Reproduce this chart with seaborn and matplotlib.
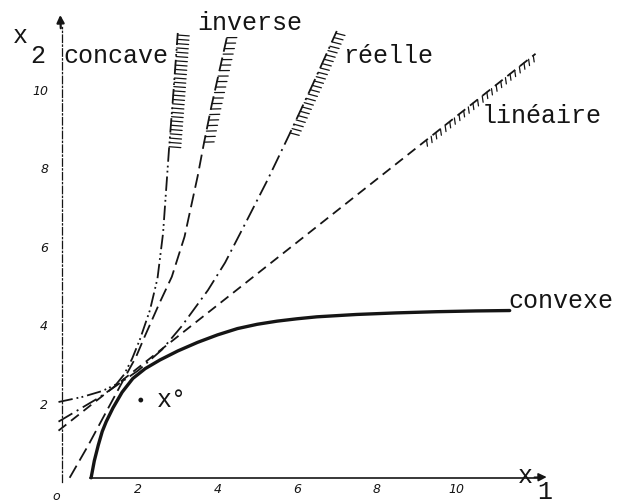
import matplotlib
matplotlib.use('Agg')
import matplotlib.pyplot as plt
import matplotlib.patheffects as pe
import seaborn as sns

# ---- Données (x1, x2) ----
convexe_x1 = [0.82, 0.9, 1.0, 1.1, 1.2, 1.37, 1.6, 1.87, 2.18, 2.55, 3.0, 3.5, 4.0,
              4.5, 5.0, 5.5, 6.0, 6.5, 7.5, 8.5, 9.5, 10.5, 11.35]
convexe_x2 = [0.12, 0.55, 0.95, 1.3, 1.55, 1.9, 2.3, 2.65, 2.9, 3.12, 3.35, 3.57, 3.76,
              3.92, 4.03, 4.11, 4.17, 4.22, 4.28, 4.32, 4.35, 4.37, 4.38]

lineaire_x1 = [0.0, 2.3, 4.19, 6.49, 9.2, 12.0]
lineaire_x2 = [1.32, 3.16, 4.67, 6.51, 8.68, 10.92]

reelle_x1 = [0.0, 0.5, 1.0, 1.5, 2.0, 2.6, 3.09, 3.76, 4.19, 4.7, 5.26, 5.8, 6.4, 7.0]
reelle_x2 = [1.55, 1.85, 2.15, 2.5, 2.85, 3.38, 3.97, 4.9, 5.6, 6.6, 7.71, 8.85, 10.15, 11.5]

inverse_x1 = [0.28, 0.75, 1.2, 1.6, 1.95, 2.16, 2.54, 2.85, 3.17, 3.5, 3.65, 3.85, 4.25]
inverse_x2 = [0.12, 0.95, 1.8, 2.55, 3.2, 3.7, 4.57, 5.24, 6.26, 7.8, 8.6, 9.6, 11.4]

concave_x1 = [0.0, 0.6, 1.1, 1.45, 1.65, 1.85, 2.05, 2.3, 2.49, 2.63, 2.73, 2.78, 2.88, 3.0]
concave_x2 = [2.05, 2.18, 2.33, 2.5, 2.75, 3.15, 3.65, 4.39, 5.2, 6.35, 7.78, 8.5, 9.8, 11.45]

# indice à partir duquel chaque courbe est hachurée
hatch_from = {'lineaire': 4, 'reelle': 11, 'inverse': 10, 'concave': 11}

point_x1 = [2.07]
point_x2 = [2.1]

x_ticks = [2, 4, 6, 8, 10]
y_ticks = [2, 4, 6, 8, 10]

INK = '#151515'

sns.set_theme(style='white')
plt.rcParams['font.family'] = ['Liberation Mono', 'DejaVu Sans']

fig = plt.figure(figsize=(6.23, 5.04), dpi=100)
ax = fig.add_axes([0, 0, 1, 1])
ax.set_xlim(-1.472, 14.2)
ax.set_ylim(-0.548, 12.29)

# ---- Axes ----
for side in ['top', 'right']:
    ax.spines[side].set_visible(False)
ax.spines['left'].set_position(('data', 0.09))
ax.spines['left'].set_bounds(0.0, 11.6)
ax.spines['left'].set_linestyle((0, (6, 2, 1, 2)))
ax.spines['left'].set_linewidth(0.9)
ax.spines['left'].set_color(INK)
ax.spines['bottom'].set_position(('data', 0.12))
ax.spines['bottom'].set_bounds(0.78, 12.1)
ax.spines['bottom'].set_linewidth(1.2)
ax.spines['bottom'].set_color(INK)

ax.annotate('', xy=(0.04, 11.98), xytext=(0.06, 11.5),
            arrowprops=dict(arrowstyle='-|>', color=INK, lw=1.6, mutation_scale=11))
ax.annotate('', xy=(12.35, 0.14), xytext=(11.9, 0.13),
            arrowprops=dict(arrowstyle='-|>', color=INK, lw=1.2, mutation_scale=12))

ax.set_xticks(x_ticks)
ax.set_yticks(y_ticks)
tick_font = dict(family='DejaVu Sans', style='italic', size=9)
ax.set_xticklabels([str(t) for t in x_ticks], fontdict=tick_font)
ax.set_yticklabels([str(t) for t in y_ticks], fontdict=tick_font)
ax.tick_params(axis='x', direction='in', length=4, width=1, color=INK, pad=4, labelcolor=INK)
ax.tick_params(axis='y', direction='in', length=4, width=1, color=INK, pad=10, labelcolor=INK)
ax.grid(False)
ax.text(-0.06, -0.2, 'o', ha='center', va='top', color=INK,
        family='DejaVu Sans', style='italic', size=9)

# ---- Courbes ----
styles = {
    'lineaire': (lineaire_x1, lineaire_x2, (0, (5.5, 3.3)), 1.3),
    'reelle': (reelle_x1, reelle_x2, (0, (8.9, 2.8, 1.1, 2.8)), 1.3),
    'inverse': (inverse_x1, inverse_x2, (0, (7.7, 3.3)), 1.3),
    'concave': (concave_x1, concave_x2, (0, (8, 2.2, 1, 1.8, 1, 2.2)), 1.3),
}
for name, (xs, ys, ls, lw) in styles.items():
    sns.lineplot(x=xs, y=ys, ax=ax, color=INK, linewidth=lw, linestyle=ls,
                 sort=False, estimator=None)

sns.lineplot(x=convexe_x1, y=convexe_x2, ax=ax, color=INK, linewidth=2.4,
             sort=False, estimator=None)

# ---- Hachures (contraintes) ----
hatch_params = {
    'concave': dict(spacing=3.0, angle=-90, length=2.8),
    'inverse': dict(spacing=4.0, angle=-77, length=1.8),
    'reelle': dict(spacing=3.4, angle=-80, length=2.0),
    'lineaire': dict(spacing=4.2, angle=-120, length=1.1),
}
for name, params in hatch_params.items():
    xs, ys = styles[name][0], styles[name][1]
    i0 = hatch_from[name]
    ax.plot(xs[i0:], ys[i0:], color=INK, lw=1,
            path_effects=[pe.TickedStroke(linewidth=0.9, **params)])

# ---- Point x° ----
sns.scatterplot(x=point_x1, y=point_x2, ax=ax, color=INK, s=12, edgecolor='none')

# ---- Étiquettes ----
lab = dict(color=INK, size=18, ha='left', va='baseline')
ax.text(-1.145, 11.2, 'x', **lab)
ax.text(-0.72, 10.69, '2', **lab)
ax.text(0.11, 10.69, 'concave', **lab)
ax.text(3.49, 11.53, 'inverse', **lab)
ax.text(7.16, 10.69, 'réelle', **lab)
ax.text(10.65, 9.16, 'linéaire', **lab)
ax.text(11.31, 4.45, 'convexe', **lab)
ax.text(2.48, 1.92, 'x°', **lab)
ax.text(11.56, -0.02, 'x', **lab)
ax.text(12.04, -0.42, '1', **lab)

fig.savefig('out.png', dpi=100, facecolor='white')
plt.close(fig)
